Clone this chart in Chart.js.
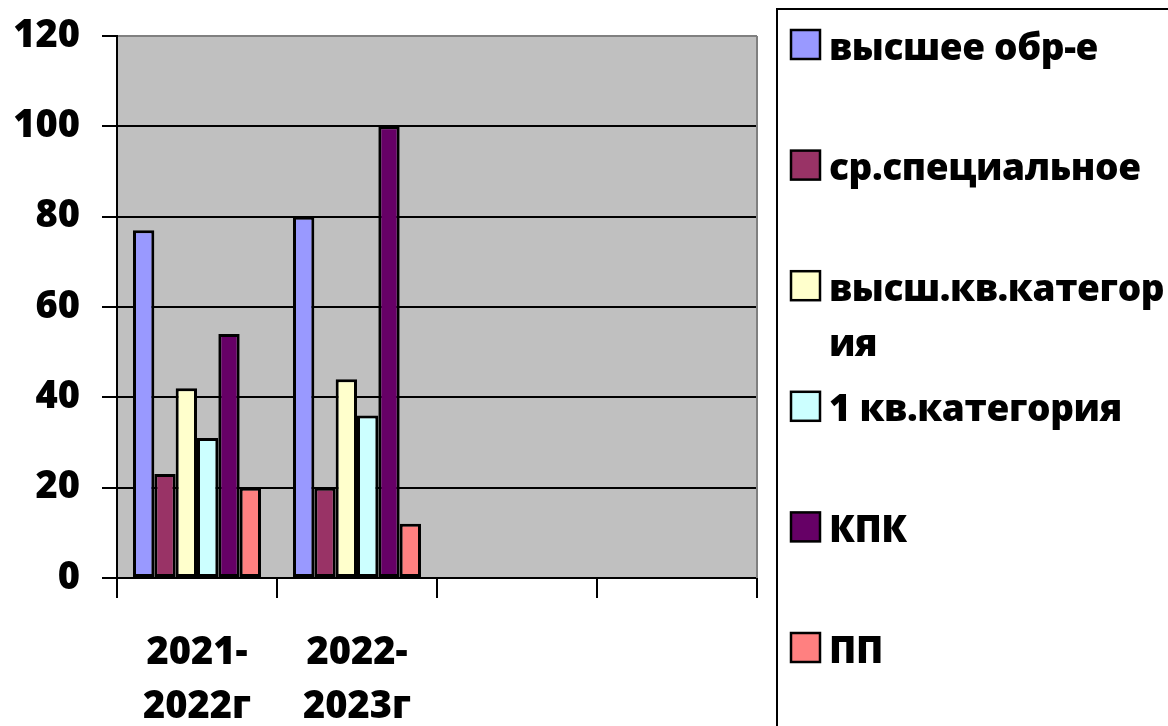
<!DOCTYPE html>
<html>
<head>
<meta charset="utf-8">
<script src="https://cdn.jsdelivr.net/npm/chart.js@4/dist/chart.umd.min.js"></script>
<style>
html,body{margin:0;padding:0;background:#fff;}
canvas{display:block;}
</style>
</head>
<body>
<canvas id="c" width="1168" height="726"></canvas>
<script>
const categories = [['2021-','2022г'], ['2022-','2023г'], '', ''];
const seriesNames = ['высшее обр-е', 'ср.специальное', 'высш.кв.категория', '1 кв.категория', 'КПК', 'ПП'];
const seriesColors = ['#9999FF', '#993366', '#FFFFCC', '#CCFFFF', '#660066', '#FF8080'];
const higherEdu = [77, 80, null, null];
const secondarySpecial = [23, 20, null, null];
const highestCategory = [42, 44, null, null];
const firstCategory = [31, 36, null, null];
const kpk = [54, 100, null, null];
const pp = [20, 12, null, null];
const yTicks = [0, 20, 40, 60, 80, 100, 120];

const seriesValues = [higherEdu, secondarySpecial, highestCategory, firstCategory, kpk, pp];
const FONT = "'Open Sans', 'DejaVu Sans', sans-serif";
const WEIGHT = '800';

const plotBg = {
  id: 'plotBg',
  beforeDraw(chart) {
    const {ctx, chartArea: a} = chart;
    ctx.save();
    ctx.fillStyle = '#C0C0C0';
    ctx.fillRect(a.left, a.top, a.right - a.left, a.bottom - a.top);
    ctx.restore();
  },
  afterDatasetsDraw(chart) {
    const {ctx, chartArea: a} = chart;
    ctx.save();
    ctx.strokeStyle = '#808080';
    ctx.lineWidth = 2;
    ctx.beginPath();
    ctx.moveTo(a.right, a.top);
    ctx.lineTo(a.right, a.bottom);
    ctx.stroke();
    ctx.restore();
  }
};

const customLegend = {
  id: 'customLegend',
  afterDraw(chart) {
    const ctx = chart.ctx;
    const boxLeft = 777, boxTop = 9;
    ctx.save();
    ctx.strokeStyle = '#000';
    ctx.lineWidth = 2;
    ctx.beginPath();
    ctx.moveTo(boxLeft, 726);
    ctx.lineTo(boxLeft, boxTop);
    ctx.lineTo(1168, boxTop);
    ctx.stroke();
    ctx.font = WEIGHT + ' 37px ' + FONT;
    if ('letterSpacing' in ctx) ctx.letterSpacing = '-0.4px';
    ctx.textBaseline = 'middle';
    ctx.fillStyle = '#000';
    const textX = 829, maxW = 1168 - textX;
    chart.data.datasets.forEach((ds, i) => {
      const top = 30 + i * 120.6;
      ctx.fillStyle = ds.backgroundColor;
      ctx.fillRect(791, top, 29, 29);
      ctx.strokeStyle = '#000';
      ctx.lineWidth = 2.5;
      ctx.strokeRect(791, top, 29, 29);
      const lines = [];
      let cur = '';
      for (const ch of ds.label) {
        if (ctx.measureText(cur + ch).width > maxW && cur) { lines.push(cur); cur = ch; }
        else cur += ch;
      }
      lines.push(cur);
      ctx.fillStyle = '#000';
      lines.forEach((ln, k) => ctx.fillText(ln, textX, top + 19 + k * 55));
    });
    ctx.restore();
  }
};

new Chart(document.getElementById('c'), {
  type: 'bar',
  data: {
    labels: categories,
    datasets: seriesNames.map((n, i) => ({
      label: n,
      data: seriesValues[i],
      backgroundColor: seriesColors[i],
      borderColor: '#000',
      borderWidth: 3,
      borderSkipped: false,
      categoryPercentage: 0.8,
      barPercentage: 1.0
    }))
  },
  options: {
    responsive: false,
    animation: false,
    layout: {padding: {top: 36, right: 411, left: 0, bottom: 0}},
    plugins: {legend: {display: false}, tooltip: {enabled: false}},
    scales: {
      x: {
        afterFit(s) { s.height = 148; s.paddingLeft = 0; s.paddingRight = 0; },
        grid: {drawOnChartArea: false, drawTicks: true, tickLength: 20, color: '#000', lineWidth: 2, offset: true},
        border: {color: '#000', width: 2},
        ticks: {color: '#000', font: {family: FONT, weight: WEIGHT, size: 38, lineHeight: 1.42}, padding: 28, maxRotation: 0, autoSkip: false}
      },
      y: {
        min: 0, max: 120,
        afterFit(s) { s.width = 117; s.paddingTop = 0; s.paddingBottom = 0; },
        afterBuildTicks(s) { s.ticks = yTicks.map(v => ({value: v})); },
        grid: {color: c => (c.tick && c.tick.value === 120) ? '#808080' : '#000', tickColor: '#000', lineWidth: 2, tickLength: 15},
        border: {color: '#000', width: 2},
        ticks: {color: '#000', font: {family: FONT, weight: WEIGHT, size: 38}, padding: 22}
      }
    }
  },
  plugins: [plotBg, customLegend]
});
</script>
</body>
</html>
